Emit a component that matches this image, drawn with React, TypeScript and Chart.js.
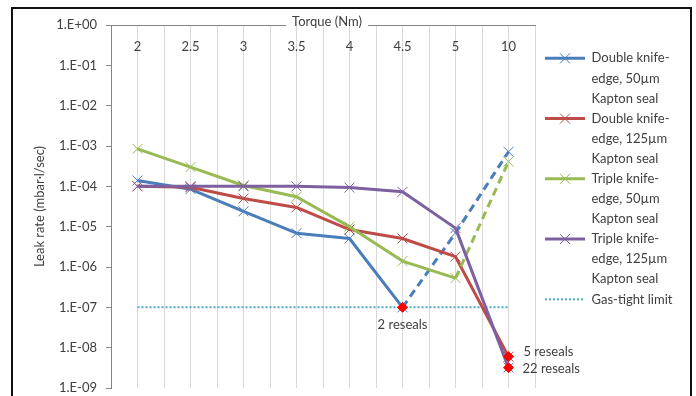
import React, { useEffect, useRef } from 'react';
import { Chart, registerables } from 'chart.js';

Chart.register(...registerables);

// ---------- data ----------
const xLabels = ['2', '2.5', '3', '3.5', '4', '4.5', '5', '10'];
const yTickValues = [1, 1e-1, 1e-2, 1e-3, 1e-4, 1e-5, 1e-6, 1e-7, 1e-8, 1e-9];
const yTickLabels = ['1.E+00', '1.E-01', '1.E-02', '1.E-03', '1.E-04', '1.E-05', '1.E-06', '1.E-07', '1.E-08', '1.E-09'];

const doubleKnife50 = [1.4e-4, 8.5e-5, 2.4e-5, 6.9e-6, 5.1e-6, 1e-7, 7e-6, 7.2e-4];
const doubleKnife125 = [1e-4, 9.5e-5, 5e-5, 3e-5, 8.5e-6, 5.1e-6, 1.8e-6, 6e-9];
const tripleKnife50 = [8.5e-4, 3e-4, 1.05e-4, 5.5e-5, 1e-5, 1.4e-6, 5.3e-7, 4.1e-4];
const tripleKnife125 = [1e-4, 1e-4, 1e-4, 1e-4, 9.3e-5, 7.3e-5, 9.2e-6, 3.2e-9];
const gasTightLimit = [1e-7, 1e-7, 1e-7, 1e-7, 1e-7, 1e-7, 1e-7, 1e-7];

const resealTorques = ['4.5', '10', '10'];
const resealRates = [1e-7, 6e-9, 3.2e-9];
const resealLabels = ['2 reseals', '5 reseals', '22 reseals'];

const seriesNames = [
  ['Double knife-', 'edge, 50µm', 'Kapton seal'],
  ['Double knife-', 'edge, 125µm', 'Kapton seal'],
  ['Triple knife-', 'edge, 50µm', 'Kapton seal'],
  ['Triple knife-', 'edge, 125µm', 'Kapton seal'],
  ['Gas-tight limit'],
];
const xTitle = 'Torque (Nm)';
const yTitle = 'Leak rate (mbar·l/sec)';

// ---------- style ----------
const FONT = 'Lato';
const FONT_SIZE = 13;
const TEXT = '#404040';
const BLUE = '#4a7ebb';
const RED = '#be4b48';
const GREEN = '#98b954';
const PURPLE = '#7d60a0';
const AQUA = '#4bacc6';
const BLUE_DASH_FROM = 5;
const GREEN_DASH_FROM = 6;
const DASH = [8, 5];
const LEGEND_BOX = 40;
const LEGEND_LEFT = 545;
const CANVAS_W = 696;
const CANVAS_H = 396;

const toPts = (vals: number[]) => vals.map((v, i) => ({ x: i, y: v }));

function lineDataset(label: string, vals: number[], color: string, order: number, dashFrom: number | null) {
  return {
    label,
    data: toPts(vals),
    borderColor: color,
    backgroundColor: color,
    borderWidth: 3,
    borderJoinStyle: 'round',
    pointStyle: 'crossRot',
    pointRadius: 7,
    pointHoverRadius: 7,
    pointBorderWidth: 1,
    pointBorderColor: color,
    pointBackgroundColor: color,
    tension: 0,
    order,
    segment: dashFrom === null ? undefined : {
      borderDash: (ctx: any) => (ctx.p0DataIndex >= dashFrom ? DASH : undefined),
    },
  };
}

const framePlugin = {
  id: 'frame',
  beforeDraw(chart: any) {
    const ctx = chart.ctx;
    ctx.save();
    ctx.fillStyle = '#ffffff';
    ctx.fillRect(0, 0, chart.width, chart.height);
    ctx.strokeStyle = '#111111';
    ctx.lineWidth = 2;
    ctx.strokeRect(12, 8, 679, 420);
    ctx.restore();
  },
};

const annotatePlugin = {
  id: 'annotate',
  afterDatasetsDraw(chart: any) {
    const ctx = chart.ctx;
    const idx = chart.data.datasets.findIndex((d: any) => d.id === 'reseals');
    const meta = chart.getDatasetMeta(idx);
    const anchors = [
      { dx: 0, dy: 17, align: 'center' },
      { dx: 15, dy: -5, align: 'left' },
      { dx: 14, dy: 1, align: 'left' },
    ];
    ctx.save();
    ctx.font = `${FONT_SIZE}px ${FONT}`;
    ctx.fillStyle = TEXT;
    ctx.textBaseline = 'middle';
    meta.data.forEach((pt: any, i: number) => {
      const a = anchors[i];
      ctx.textAlign = a.align;
      ctx.fillText(resealLabels[i], pt.x + a.dx, pt.y + a.dy);
    });
    ctx.restore();
  },
  afterDraw(chart: any) {
    const ctx = chart.ctx;
    const ca = chart.chartArea;
    ctx.save();
    // x-axis title over the top axis line
    ctx.font = `${FONT_SIZE}px ${FONT}`;
    const w = ctx.measureText(xTitle).width;
    const cx = (ca.left + ca.right) / 2 + 4;
    const cy = ca.top - 3;
    ctx.fillStyle = '#ffffff';
    ctx.fillRect(cx - w / 2 - 6, cy - 4, w + 12, 8);
    ctx.fillStyle = TEXT;
    ctx.textAlign = 'center';
    ctx.textBaseline = 'middle';
    ctx.fillText(xTitle, cx, cy);
    // markers on the legend lines
    const legend = chart.legend;
    if (legend && legend.legendHitBoxes) {
      legend.legendHitBoxes.forEach((hb: any, i: number) => {
        const item = legend.legendItems[i];
        const ds = chart.data.datasets[item.datasetIndex];
        if (ds.pointStyle !== 'crossRot') return;
        const mx = hb.left + LEGEND_BOX / 2;
        const my = hb.top + FONT_SIZE / 2;
        const h = 5;
        ctx.strokeStyle = ds.pointBorderColor;
        ctx.lineWidth = 1;
        ctx.beginPath();
        ctx.moveTo(mx - h, my - h);
        ctx.lineTo(mx + h, my + h);
        ctx.moveTo(mx - h, my + h);
        ctx.lineTo(mx + h, my - h);
        ctx.stroke();
      });
    }
    ctx.restore();
  },
};

export default function App() {
  const ref = useRef<HTMLCanvasElement>(null);

  useEffect(() => {
    const canvas = ref.current;
    if (!canvas) return;
    Chart.defaults.font.family = FONT;
    Chart.defaults.color = TEXT;

    // replicate the legend's width computation so its items start at LEGEND_LEFT
    const mctx = document.createElement('canvas').getContext('2d') as CanvasRenderingContext2D;
    mctx.font = `${FONT_SIZE}px ${FONT}`;
    const longest = Math.max(
      ...seriesNames.map((lines) => mctx.measureText(lines.reduce((a, b) => (a.length > b.length ? a : b))).width)
    );
    const legendW = LEGEND_BOX + FONT_SIZE / 2 + longest + 10;
    const padRight = Math.max(0, CANVAS_W - LEGEND_LEFT - legendW);

    const datasets: any[] = [
      lineDataset(seriesNames[0].join(' '), doubleKnife50, BLUE, 5, BLUE_DASH_FROM),
      lineDataset(seriesNames[1].join(' '), doubleKnife125, RED, 4, null),
      lineDataset(seriesNames[2].join(' '), tripleKnife50, GREEN, 3, GREEN_DASH_FROM),
      lineDataset(seriesNames[3].join(' '), tripleKnife125, PURPLE, 2, null),
      {
        label: seriesNames[4].join(' '),
        data: toPts(gasTightLimit),
        borderColor: AQUA,
        backgroundColor: AQUA,
        borderWidth: 2,
        borderDash: [2, 2],
        pointRadius: 0,
        pointHoverRadius: 0,
        order: 6,
      },
      {
        id: 'reseals',
        label: 'reseals',
        data: resealTorques.map((t, i) => ({ x: xLabels.indexOf(t), y: resealRates[i] })),
        showLine: false,
        pointStyle: 'rectRot',
        pointRadius: 5,
        pointHoverRadius: 5,
        pointBorderWidth: 1,
        pointBorderColor: '#ff0000',
        pointBackgroundColor: '#ff0000',
        borderColor: '#ff0000',
        backgroundColor: '#ff0000',
        order: 1,
      },
    ];

    const chart = new Chart(canvas, {
      type: 'line',
      data: { datasets },
      options: {
        animation: false,
        responsive: false,
        devicePixelRatio: 1,
        events: [],
        layout: { padding: { left: 28, top: 25, right: padRight, bottom: 5 } },
        scales: {
          x: {
            type: 'linear',
            position: 'top',
            min: -0.5,
            max: xLabels.length - 0.5,
            afterBuildTicks: (s: any) => {
              const t = [];
              for (let i = 0; i <= xLabels.length * 2; i++) t.push({ value: i * 0.5 - 0.5 });
              s.ticks = t;
            },
            ticks: {
              mirror: true,
              padding: 14,
              autoSkip: false,
              maxRotation: 0,
              color: TEXT,
              font: { family: FONT, size: FONT_SIZE },
              callback: (v: any) => (Number.isInteger(v) ? xLabels[v] : ''),
            },
            grid: { color: '#d9d9d9', drawTicks: false, lineWidth: 1 },
            border: { color: '#868686', width: 1 },
            afterFit: (s: any) => {
              s.height = 0;
              s.paddingLeft = 0;
              s.paddingRight = 0;
            },
          },
          y: {
            type: 'logarithmic',
            position: 'left',
            min: 1e-9,
            max: 1,
            afterBuildTicks: (s: any) => {
              s.ticks = yTickValues.map((v) => ({ value: v }));
            },
            ticks: {
              padding: 9,
              color: TEXT,
              font: { family: FONT, size: FONT_SIZE },
              callback: (v: any) => {
                const i = yTickValues.findIndex((t) => Math.abs(Math.log10(t) - Math.log10(v)) < 1e-6);
                return i >= 0 ? yTickLabels[i] : '';
              },
            },
            grid: { display: true, drawOnChartArea: false, drawTicks: true, tickLength: 5, color: '#868686' },
            border: { color: '#868686', width: 1 },
            title: {
              display: true,
              text: yTitle,
              color: TEXT,
              font: { family: FONT, size: FONT_SIZE },
              padding: { top: 4, bottom: 4 },
            },
            afterFit: (s: any) => {
              s.width = 83;
              s.paddingTop = 0;
              s.paddingBottom = 0;
            },
          },
          yR: {
            type: 'linear',
            position: 'right',
            display: true,
            grid: { display: false },
            ticks: { display: false },
            border: { display: false },
            afterFit: (s: any) => {
              s.width = 10;
              s.paddingTop = 0;
              s.paddingBottom = 0;
            },
          },
        },
        plugins: {
          tooltip: { enabled: false },
          legend: {
            position: 'right',
            align: 'start',
            maxWidth: 300,
            title: {
              display: true,
              text: '',
              padding: { top: 16.8, bottom: 0 },
              font: { size: 10, lineHeight: 1 },
            },
            labels: {
              usePointStyle: true,
              pointStyle: 'line',
              pointStyleWidth: LEGEND_BOX,
              padding: 0,
              color: TEXT,
              font: { family: FONT, size: FONT_SIZE, lineHeight: 1.545 },
              generateLabels: (c: any) => {
                const base = (Chart.defaults.plugins.legend.labels as any).generateLabels(c);
                return base
                  .filter((it: any) => it.datasetIndex < seriesNames.length)
                  .sort((a: any, b: any) => a.datasetIndex - b.datasetIndex)
                  .map((it: any) => {
                    const ds = c.data.datasets[it.datasetIndex];
                    return {
                      ...it,
                      text: seriesNames[it.datasetIndex],
                      pointStyle: 'line',
                      strokeStyle: ds.borderColor,
                      fillStyle: ds.borderColor,
                      lineWidth: ds.borderWidth,
                      lineDash: ds.borderDash || [],
                    };
                  });
              },
            },
          },
        },
      } as any,
      plugins: [framePlugin, annotatePlugin],
    });

    return () => chart.destroy();
  }, []);

  return (
    <div style={{ position: 'absolute', left: 0, top: 0, width: CANVAS_W, height: CANVAS_H, background: '#fff' }}>
      <canvas ref={ref} width={CANVAS_W} height={CANVAS_H} style={{ display: 'block', width: CANVAS_W, height: CANVAS_H }} />
    </div>
  );
}
